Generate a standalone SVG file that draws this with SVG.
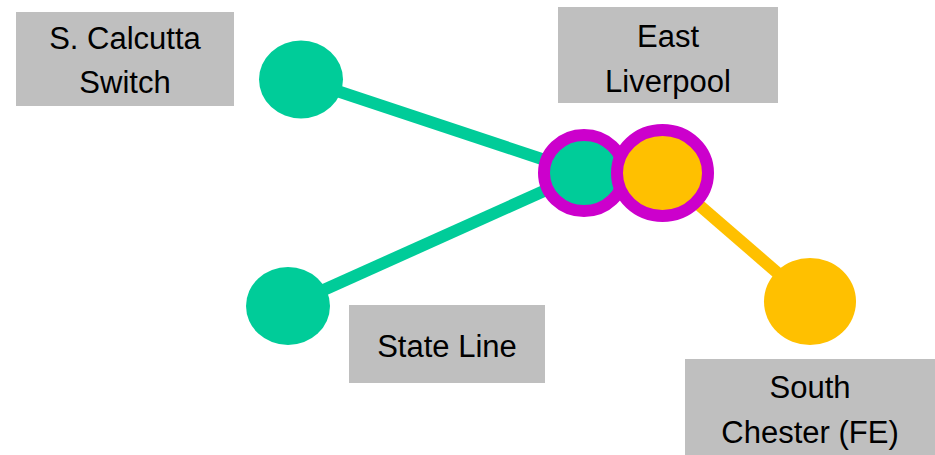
<svg xmlns="http://www.w3.org/2000/svg" width="935" height="455" viewBox="0 0 935 455">
<style>
.box{fill:#BFBFBF;}
.lbl{font-family:"Liberation Sans",Arial,sans-serif;font-size:31px;fill:#000;text-anchor:middle;}
.g{fill:#00CC99;}
.y{fill:#FFC000;}
.ring{stroke:#CC00CC;stroke-width:12;}
.lg{stroke:#00CC99;stroke-width:12;fill:none;}
.ly{stroke:#FFC000;stroke-width:12;fill:none;}
</style>
<rect width="935" height="455" fill="#fff"/>
<g id="connectors">
<line class="lg" x1="301" y1="79" x2="584" y2="173"/>
<line class="lg" x1="288" y1="306" x2="584" y2="173"/>
<line class="ly" x1="662" y1="173" x2="810" y2="301"/>
</g>
<g id="s-calcutta">
<rect class="box" x="16" y="12" width="218" height="94"/>
<text class="lbl" x="125" y="49">S. Calcutta</text>
<text class="lbl" x="125" y="93">Switch</text>
<ellipse class="g" cx="301" cy="79.5" rx="42" ry="39"/>
</g>
<g id="state-line">
<rect class="box" x="349" y="305" width="196" height="78"/>
<text class="lbl" x="447" y="357">State Line</text>
<ellipse class="g" cx="288" cy="306" rx="42" ry="39"/>
</g>
<g id="east-liverpool">
<rect class="box" x="558" y="7" width="220" height="96"/>
<text class="lbl" x="668" y="47">East</text>
<text class="lbl" x="668" y="92">Liverpool</text>
<ellipse class="g ring" cx="584" cy="173" rx="40" ry="38"/>
<ellipse class="y ring" cx="662.5" cy="173" rx="45.5" ry="43"/>
</g>
<g id="south-chester">
<rect class="box" x="685" y="359" width="250" height="96"/>
<text class="lbl" x="810" y="398">South</text>
<text class="lbl" x="810" y="443">Chester (FE)</text>
<ellipse class="y" cx="810" cy="301.5" rx="46" ry="43.5"/>
</g>
</svg>
